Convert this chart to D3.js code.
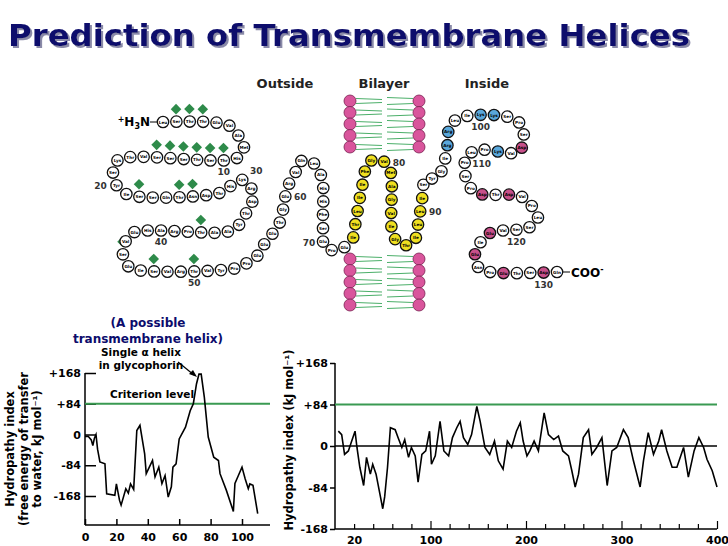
<!DOCTYPE html>
<html lang="en">
<head>
<meta charset="UTF-8">
<title>Prediction of Transmembrane Helices</title>
<script src="https://d3js.org/d3.v7.min.js"></script>
<style>
  body { margin: 0; background: white; }
  text { font-family: "DejaVu Sans", Verdana, sans-serif; }
  .tick text { font-weight: bold; font-size: 11px; }
  .res text { font-size: 4.2px; font-weight: bold; }
</style>
</head>
<body>
<script>
// glycophorin A sequence (131 residues)
const sequence = ["Leu","Ser","Thr","Thr","Glu","Val","Ala","Met","His","Thr","Ser","Thr","Ser","Ser","Ser","Val","Thr","Lys","Ser","Tyr","Ile","Ser","Ser","Gln","Thr","Asn","Asp","Thr","His","Lys","Arg","Asp","Thr","Tyr","Ala","Ala","Thr","Pro","Arg","Ala","His","Glu","Val","Ser","Glu","Ile","Ser","Val","Arg","Thr","Val","Tyr","Pro","Pro","Glu","Glu","Glu","Thr","Gly","Glu","Arg","Val","Gln","Leu","Ala","His","His","Phe","Ser","Glu","Pro","Glu","Ile","Thr","Leu","Ile","Ile","Phe","Gly","Val","Met","Ala","Gly","Val","Ile","Gly","Thr","Ile","Leu","Leu","Ile","Ser","Tyr","Gly","Ile","Arg","Arg","Leu","Ile","Lys","Lys","Ser","Pro","Ser","Asp","Val","Lys","Pro","Leu","Pro","Ser","Pro","Asp","Thr","Asp","Val","Pro","Leu","Ser","Ser","Val","Glu","Ile","Glu","Asn","Pro","Glu","Thr","Ser","Asp","Gln"];
const helixRange = [73, 91];
const basicRes = [96, 97, 100, 101, 107];
const acidicRes = [105, 113, 115, 122, 124, 127, 130];
const glycoRes = [2, 3, 4, 10, 11, 12, 13, 14, 15, 22, 25, 26, 37, 44, 47, 50];
const numberLabels = [10, 20, 30, 40, 50, 60, 70, 80, 90, 100, 110, 120, 130];

// hydropathy plot of glycophorin (left)
const glyX = [0,2,4,5,6,7,8,9.5,12.7,13.8,19,20,22,23,26,27.6,29,31,33,35,38,39,43,44.6,47,49,51,53,55,56,58,60,64,67,69,71,72.6,74,76,78.5,82,85,86,90,94.5,95.5,97.7,100,102,104,105,107,110];
const glyY = [-5,-5,-15,-30,-10,0,-40,-75,-80,-162,-166,-135,-180,-193,-148,-160,-135,-150,11,25,-53,-107,-71,-116,-89,-134,-112,-171,-143,-89,-80,-12,20,65,84,138,165,165,102,-7,-62,-71,-107,-152,-210,-134,-112,-89,-121,-148,-135,-139,-216];

// hydropathy plot of a 400-residue protein (right)
const protX = [3.5,7,10,14,17.5,21,23,26,30,33,37,39.5,43,47,50,52,55,58,63,66,70,73,77,80,84,87,91,95,99,101,105,110,114,119,123,127.5,131,134.5,139,143,148.5,152,157,162,167,171,176,180.5,185,190,194,197,201,204,208.5,213,219,223.5,229,234,238.5,244.5,248,251.5,255,260,265.5,269,274,279.5,285,290,295,302,307,312.5,319.5,323,328,333.5,339,342,347.5,353,358,365,370,376,381,386,389.5,395,400];
const protY = [30,23,-17,-10,10,30,-3,-43,-80,-23,-57,-37,-57,-97,-127,-103,-43,37,33,17,-3,13,-23,-3,-20,-73,-17,-10,30,-37,-20,50,-10,-20,17,37,50,17,3,23,80,50,-3,-17,10,-30,-47,10,-3,30,47,10,-20,-10,10,-10,67,23,13,20,-10,-20,-50,-83,-57,17,33,-17,-3,17,-80,-10,-3,33,17,-30,-83,-30,27,-17,10,33,-10,-43,-43,-3,-63,-10,17,-3,-27,-50,-83];

const yTicks = [168, 84, 0, -84, -168];
const yTickLabels = ["+168", "+84", "0", "-84", "-168"];

const W = 728, H = 546;
const svg = d3.select("body").append("svg").attr("width", W).attr("height", H);

const defs = svg.append("defs");
defs.append("filter").attr("id", "shadow")
  .append("feDropShadow").attr("dx", 2).attr("dy", 2).attr("stdDeviation", 0.6)
  .attr("flood-color", "#8a8aa8");

// title with shadow
svg.append("text").attr("x", 8).attr("y", 46).attr("fill", "#0c0c6c")
  .attr("font-size", 30).attr("font-weight", "bold").attr("filter", "url(#shadow)")
  .attr("textLength", 682).attr("lengthAdjust", "spacingAndGlyphs")
  .text("Prediction of Transmembrane Helices");

// section headers
[["Outside", 285], ["Bilayer", 384], ["Inside", 487]].forEach(([t, x]) => {
  svg.append("text").attr("x", x).attr("y", 88).attr("text-anchor", "middle")
    .attr("font-size", 13).attr("font-weight", "bold").attr("fill", "#222").text(t);
});

// lipid bilayer
function bilayer(y0) {
  const g = svg.append("g");
  const ys = d3.range(5).map(i => y0 + i * 11.5);
  ys.forEach(y => {
    d3.range(2).forEach(k => {
      const yy = y - 2.5 + k * 5;
      g.append("line").attr("x1", 356).attr("x2", 382).attr("y1", yy).attr("y2", yy + (k ? -1 : 1))
        .attr("stroke", "#4caf6a").attr("stroke-width", 1.2);
      g.append("line").attr("x1", 387).attr("x2", 413).attr("y1", yy + (k ? 1 : -1)).attr("y2", yy)
        .attr("stroke", "#4caf6a").attr("stroke-width", 1.2);
    });
  });
  [350, 419].forEach(x => ys.forEach(y => {
    g.append("circle").attr("cx", x).attr("cy", y).attr("r", 6)
      .attr("fill", "#d9559c").attr("stroke", "#7a2050").attr("stroke-width", 0.8);
  }));
}
bilayer(101);
bilayer(259);

// chain path
const chain = [[163,122],[228,125],[238,135],[244,147],[237,158],[118,160],[113,173],[117,186],[129,195],[223,192],[232,185],[244,180],[252,190],[252,203],[245,215],[237,227],[226,232],[132,233],[125,243],[123,255],[128,266],[137,270],[237,268],[247,263],[258,255],[265,243],[273,233],[280,222],[283,210],[285,198],[288,186],[295,174],[299,162],[312,162],[320,173],[323,185],[323,223],[325,247],[338,250],[352,240],[355,226],[362,187],[369,162],[381,160],[390,170],[393,235],[402,245],[414,242],[417,230],[423,193],[425,179],[437,178],[443,167],[448,141],[449,129],[459,118],[512,118],[523,128],[523,140],[519,152],[478,150],[466,157],[465,169],[467,182],[477,193],[520,196],[530,204],[538,217],[530,227],[490,233],[480,243],[475,254],[478,267],[490,272],[557,272]];
const chainPath = svg.append("path").attr("d", d3.line().curve(d3.curveCatmullRom)(chain))
  .attr("fill", "none").attr("stroke", "none");
const node = chainPath.node();
const L = node.getTotalLength();
const pos = sequence.map((s, i) => node.getPointAtLength(L * i / (sequence.length - 1)));

svg.append("text").attr("x", 150).attr("y", 126).attr("text-anchor", "end")
  .attr("font-size", 12).attr("font-weight", "bold").html("<tspan font-size='8' dy='-4'>+</tspan><tspan dy='4'>H</tspan><tspan font-size='8' dy='3'>3</tspan><tspan dy='-3'>N</tspan>");
svg.append("line").attr("x1", 150).attr("x2", 157).attr("y1", 122).attr("y2", 122).attr("stroke", "#000");
svg.append("text").attr("x", 571).attr("y", 277).attr("font-size", 12).attr("font-weight", "bold").html("COO<tspan font-size='8' dy='-5'>-</tspan>");
svg.append("line").attr("x1", 563).attr("x2", 570).attr("y1", 272).attr("y2", 272).attr("stroke", "#000");

// glycosylation diamonds
glycoRes.forEach(n => {
  const p = pos[n - 1];
  svg.append("rect").attr("x", p.x - 4).attr("y", p.y - 16).attr("width", 7.5).attr("height", 7.5)
    .attr("transform", `rotate(45,${p.x},${p.y - 12.5})`).attr("fill", "#2e8b4a");
});

const res = svg.selectAll(".res").data(sequence).join("g").attr("class", "res")
  .attr("transform", (d, i) => `translate(${pos[i].x},${pos[i].y})`);
res.append("circle").attr("r", 5.7).attr("stroke", "#111").attr("stroke-width", 1.3)
  .attr("fill", (d, i) => {
    const n = i + 1;
    if (n >= helixRange[0] && n <= helixRange[1]) return "#f0e020";
    if (basicRes.includes(n)) return "#5aa8dc";
    if (acidicRes.includes(n)) return "#c8508a";
    return "#fff";
  });
res.append("text").attr("text-anchor", "middle").attr("dy", 1.5).text(d => d);

const labelOff = {10:[0,15],20:[-16,4],30:[14,-6],40:[0,14],50:[0,15],60:[15,4],70:[-14,4],80:[15,4],90:[15,4],100:[0,15],110:[17,4],120:[0,15],130:[0,15]};
numberLabels.forEach(n => {
  const p = pos[n - 1];
  svg.append("text").attr("x", p.x + labelOff[n][0]).attr("y", p.y + labelOff[n][1])
    .attr("text-anchor", "middle").attr("font-size", 9).attr("font-weight", "bold").attr("fill", "#333").text(n);
});

// ---------- left plot ----------
const x1 = d3.scaleLinear().domain([0, 100]).range([85, 242]);
const y1 = d3.scaleLinear().domain([-168, 168]).range([496, 373]);
const g1 = svg.append("g");
g1.append("line").attr("x1", 85).attr("x2", 270).attr("y1", 525).attr("y2", 525).attr("stroke", "#000").attr("stroke-width", 1.5);
g1.append("line").attr("x1", 85).attr("x2", 85).attr("y1", 373).attr("y2", 525).attr("stroke", "#000").attr("stroke-width", 1.5);
const ax1 = g1.append("g").attr("transform", "translate(0,525)")
  .call(d3.axisBottom(x1).tickValues([0, 20, 40, 60, 80, 100]).tickSize(-6).tickPadding(8));
ax1.select(".domain").remove();
ax1.selectAll("line").attr("stroke-width", 1.5);
const ay1 = g1.append("g").attr("transform", "translate(85,0)")
  .call(d3.axisLeft(y1).tickValues(yTicks).tickFormat((d, i) => yTickLabels[i]).tickSize(-11).tickPadding(5));
ay1.select(".domain").remove();
ay1.selectAll("line").attr("stroke-width", 1.5);
ay1.selectAll("text").attr("x", -4).attr("font-size", 12);
g1.append("line").attr("x1", 85).attr("x2", 270).attr("y1", y1(84)).attr("y2", y1(84)).attr("stroke", "#3a9a52").attr("stroke-width", 2);
g1.append("path").datum(glyX.map((x, i) => [x, glyY[i]]))
  .attr("d", d3.line().x(d => x1(d[0])).y(d => y1(d[1])))
  .attr("fill", "none").attr("stroke", "#000").attr("stroke-width", 1.6);
g1.append("text").attr("x", 152).attr("y", 398).attr("font-size", 10.5).attr("font-weight", "bold").attr("text-anchor", "middle").text("Criterion level");
g1.append("text").attr("x", 141).attr("y", 356).attr("font-size", 10.5).attr("font-weight", "bold").attr("text-anchor", "middle").text("Single α helix");
g1.append("text").attr("x", 141).attr("y", 369).attr("font-size", 10.5).attr("font-weight", "bold").attr("text-anchor", "middle").text("in glycophorin");
g1.append("line").attr("x1", 178).attr("y1", 362).attr("x2", 194).attr("y2", 375).attr("stroke", "#000").attr("stroke-width", 1.2);
g1.append("path").attr("d", "M197,377 L189,374 L193,370 Z").attr("fill", "#000");
g1.append("text").attr("x", 148).attr("y", 327).attr("font-size", 12).attr("font-weight", "bold").attr("fill", "#0c0c6c").attr("text-anchor", "middle").text("(A possible");
g1.append("text").attr("x", 148).attr("y", 343).attr("font-size", 12).attr("font-weight", "bold").attr("fill", "#0c0c6c").attr("text-anchor", "middle").text("transmembrane helix)");
["Hydropathy index", "(free energy of transfer", "to water, kJ mol⁻¹)"].forEach((t, i) => {
  g1.append("text").attr("transform", `translate(${14 + i * 13.5},449) rotate(-90)`)
    .attr("text-anchor", "middle").attr("font-size", 11.5).attr("font-weight", "bold").text(t);
});

// ---------- right plot ----------
const x2 = d3.scaleLinear().domain([0, 400]).range([335, 717]);
const y2 = d3.scaleLinear().domain([-168, 168]).range([529, 363]);
const g2 = svg.append("g");
g2.append("line").attr("x1", 335).attr("x2", 717).attr("y1", 529).attr("y2", 529).attr("stroke", "#000").attr("stroke-width", 1.5);
g2.append("line").attr("x1", 335).attr("x2", 335).attr("y1", 363).attr("y2", 529).attr("stroke", "#000").attr("stroke-width", 1.5);
const ax2 = g2.append("g").attr("transform", "translate(0,529)")
  .call(d3.axisBottom(x2).tickValues(d3.range(20, 401, 20)).tickFormat(d => [20, 100, 200, 300, 400].includes(d) ? d : "").tickSize(-5).tickPadding(7));
ax2.select(".domain").remove();
ax2.selectAll("line").attr("y2", d => d % 100 === 0 ? -8 : -5).attr("stroke-width", 1.2);
ax2.selectAll("text").attr("font-size", 10);
const ay2 = g2.append("g").attr("transform", "translate(335,0)")
  .call(d3.axisLeft(y2).tickValues(yTicks).tickFormat((d, i) => yTickLabels[i]).tickSize(5).tickPadding(2));
ay2.select(".domain").remove();
ay2.selectAll("line").attr("stroke-width", 1.5);
ay2.selectAll("text").attr("font-size", 9.5);
g2.append("line").attr("x1", 335).attr("x2", 717).attr("y1", y2(84)).attr("y2", y2(84)).attr("stroke", "#3a9a52").attr("stroke-width", 2);
g2.append("line").attr("x1", 335).attr("x2", 717).attr("y1", y2(0)).attr("y2", y2(0)).attr("stroke", "#000").attr("stroke-width", 1.5);
g2.append("path").datum(protX.map((x, i) => [x, protY[i]]))
  .attr("d", d3.line().x(d => x2(d[0])).y(d => y2(d[1])))
  .attr("fill", "none").attr("stroke", "#000").attr("stroke-width", 1.6);
g2.append("text").attr("transform", "translate(293,440) rotate(-90)").attr("text-anchor", "middle")
  .attr("font-size", 11.5).attr("font-weight", "bold").text("Hydropathy index (kJ mol⁻¹)");
</script>
</body>
</html>
